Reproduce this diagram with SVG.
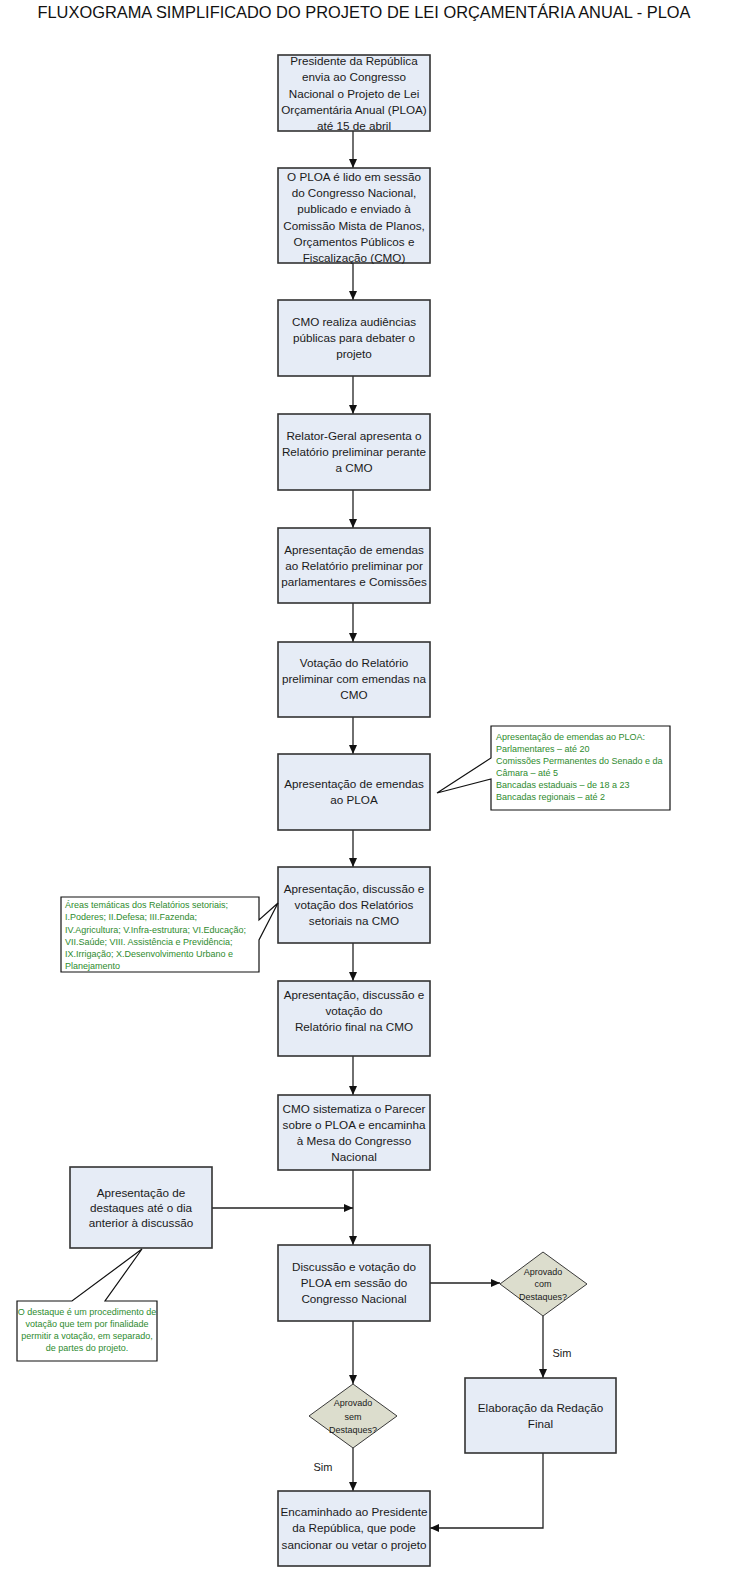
<svg xmlns="http://www.w3.org/2000/svg" width="729" height="1569" viewBox="0 0 729 1569">
<defs>
<marker id="ah" markerWidth="10" markerHeight="10" refX="9" refY="5" orient="auto" markerUnits="userSpaceOnUse">
<path d="M0,1 L9,5 L0,9 Z" fill="#111"/>
</marker>
<style>
.box{fill:#E6ECF6;stroke:#333;stroke-width:1.6}
.dia{fill:#DCDDCD;stroke:#3a3a3a;stroke-width:1}
.t{font-family:"Liberation Sans",Arial,sans-serif;font-size:11.7px;fill:#1a1a1a;text-anchor:middle}
.dt{font-family:"Liberation Sans",Arial,sans-serif;font-size:9px;fill:#1a1a1a;text-anchor:middle}
.g{font-family:"Liberation Sans",Arial,sans-serif;font-size:9px;fill:#2E8B2E}
.call{fill:#fff;stroke:#111;stroke-width:1.2}
.c{fill:none;stroke:#222;stroke-width:1.3}
.title{font-family:"Liberation Sans",Arial,sans-serif;font-size:16.4px;fill:#111;text-anchor:middle}
</style>
</defs>
<rect width="729" height="1569" fill="#fff"/>
<text class="title" x="364" y="18">FLUXOGRAMA SIMPLIFICADO DO PROJETO DE LEI ORÇAMENTÁRIA ANUAL - PLOA</text>

<g id="connectors">
<line class="c" x1="353" y1="131" x2="353" y2="168" marker-end="url(#ah)"/>
<line class="c" x1="353" y1="263" x2="353" y2="300" marker-end="url(#ah)"/>
<line class="c" x1="353" y1="376" x2="353" y2="414" marker-end="url(#ah)"/>
<line class="c" x1="353" y1="490" x2="353" y2="528" marker-end="url(#ah)"/>
<line class="c" x1="353" y1="603" x2="353" y2="642" marker-end="url(#ah)"/>
<line class="c" x1="353" y1="717" x2="353" y2="754" marker-end="url(#ah)"/>
<line class="c" x1="353" y1="830" x2="353" y2="867" marker-end="url(#ah)"/>
<line class="c" x1="353" y1="943" x2="353" y2="981" marker-end="url(#ah)"/>
<line class="c" x1="353" y1="1056" x2="353" y2="1095" marker-end="url(#ah)"/>
<line class="c" x1="353" y1="1170" x2="353" y2="1245" marker-end="url(#ah)"/>
<line class="c" x1="212" y1="1208" x2="353" y2="1208" marker-end="url(#ah)"/>
<line class="c" x1="430" y1="1283" x2="500" y2="1283" marker-end="url(#ah)"/>
<line class="c" x1="543" y1="1316" x2="543" y2="1378" marker-end="url(#ah)"/>
<line class="c" x1="353" y1="1321" x2="353" y2="1384" marker-end="url(#ah)"/>
<line class="c" x1="353" y1="1448" x2="353" y2="1491" marker-end="url(#ah)"/>
<polyline class="c" points="543,1453 543,1528 430,1528" marker-end="url(#ah)"/>
<text x="562" y="1357" font-family="Liberation Sans, Arial, sans-serif" font-size="11" fill="#1a1a1a" text-anchor="middle">Sim</text>
<text x="323" y="1471" font-family="Liberation Sans, Arial, sans-serif" font-size="11" fill="#1a1a1a" text-anchor="middle">Sim</text>
</g>

<g id="n1">
<rect class="box" x="278" y="55" width="152" height="76"/>
<text class="t" x="354" y="65">Presidente da República</text>
<text class="t" x="354" y="81">envia ao Congresso</text>
<text class="t" x="354" y="97.5">Nacional o Projeto de Lei</text>
<text class="t" x="354" y="114">Orçamentária Anual (PLOA)</text>
<text class="t" x="354" y="130">até 15 de abril</text>
</g>
<g id="n2">
<rect class="box" x="278" y="168" width="152" height="95"/>
<text class="t" x="354" y="181">O PLOA é lido em sessão</text>
<text class="t" x="354" y="197">do Congresso Nacional,</text>
<text class="t" x="354" y="213">publicado e enviado à</text>
<text class="t" x="354" y="230">Comissão Mista de Planos,</text>
<text class="t" x="354" y="246">Orçamentos Públicos e</text>
<text class="t" x="354" y="261.5">Fiscalização (CMO)</text>
</g>
<g id="n3">
<rect class="box" x="278" y="300" width="152" height="76"/>
<text class="t" x="354" y="326">CMO realiza audiências</text>
<text class="t" x="354" y="342">públicas para debater o</text>
<text class="t" x="354" y="358">projeto</text>
</g>
<g id="n4">
<rect class="box" x="278" y="414" width="152" height="76"/>
<text class="t" x="354" y="440">Relator-Geral apresenta o</text>
<text class="t" x="354" y="456">Relatório preliminar perante</text>
<text class="t" x="354" y="472">a CMO</text>
</g>
<g id="n5">
<rect class="box" x="278" y="528" width="152" height="75"/>
<text class="t" x="354" y="553.5">Apresentação de emendas</text>
<text class="t" x="354" y="569.5">ao Relatório preliminar por</text>
<text class="t" x="354" y="585.5">parlamentares e Comissões</text>
</g>
<g id="n6">
<rect class="box" x="278" y="642" width="152" height="75"/>
<text class="t" x="354" y="666.5">Votação do Relatório</text>
<text class="t" x="354" y="683">preliminar com emendas na</text>
<text class="t" x="354" y="699">CMO</text>
</g>
<g id="n7">
<rect class="box" x="278" y="754" width="152" height="76"/>
<text class="t" x="354" y="788">Apresentação de emendas</text>
<text class="t" x="354" y="804">ao PLOA</text>
</g>
<g id="n8">
<rect class="box" x="278" y="867" width="152" height="76"/>
<text class="t" x="354" y="893">Apresentação, discussão e</text>
<text class="t" x="354" y="909">votação dos Relatórios</text>
<text class="t" x="354" y="925">setoriais na CMO</text>
</g>
<g id="n9">
<rect class="box" x="278" y="981" width="152" height="75"/>
<text class="t" x="354" y="998.5">Apresentação, discussão e</text>
<text class="t" x="354" y="1014.5">votação do</text>
<text class="t" x="354" y="1030.5">Relatório final na CMO</text>
</g>
<g id="n10">
<rect class="box" x="278" y="1095" width="152" height="75"/>
<text class="t" x="354" y="1113">CMO sistematiza o Parecer</text>
<text class="t" x="354" y="1129">sobre o PLOA e encaminha</text>
<text class="t" x="354" y="1145">à Mesa do Congresso</text>
<text class="t" x="354" y="1161">Nacional</text>
</g>
<g id="n11">
<rect class="box" x="70" y="1167" width="142" height="81"/>
<text class="t" x="141" y="1197">Apresentação de</text>
<text class="t" x="141" y="1212">destaques até o dia</text>
<text class="t" x="141" y="1227">anterior à discussão</text>
</g>
<g id="n12">
<rect class="box" x="278" y="1245" width="152" height="76"/>
<text class="t" x="354" y="1271">Discussão e votação do</text>
<text class="t" x="354" y="1287">PLOA em sessão do</text>
<text class="t" x="354" y="1303">Congresso Nacional</text>
</g>
<g id="d1">
<polygon class="dia" points="543,1252 587,1284 543,1316 500,1284"/>
<text class="dt" x="543" y="1275">Aprovado</text>
<text class="dt" x="543" y="1287">com</text>
<text class="dt" x="543" y="1300">Destaques?</text>
</g>
<g id="n13">
<rect class="box" x="465" y="1378" width="151" height="75"/>
<text class="t" x="540.5" y="1412">Elaboração da Redação</text>
<text class="t" x="540.5" y="1428">Final</text>
</g>
<g id="d2">
<polygon class="dia" points="353,1384 397,1416 353,1448 309,1416"/>
<text class="dt" x="353" y="1406">Aprovado</text>
<text class="dt" x="353" y="1420">sem</text>
<text class="dt" x="353" y="1433">Destaques?</text>
</g>
<g id="n14">
<rect class="box" x="278" y="1491" width="152" height="75"/>
<text class="t" x="354" y="1516">Encaminhado ao Presidente</text>
<text class="t" x="354" y="1532">da República, que pode</text>
<text class="t" x="354" y="1549">sancionar ou vetar o projeto</text>
</g>

<g id="callout1">
<path class="call" d="M491,726 H670 V810 H491 V779 L437,793 L491,758 Z"/>
<text class="g" x="496" y="739.5">Apresentação de emendas ao PLOA:</text>
<text class="g" x="496" y="751.5">Parlamentares – até 20</text>
<text class="g" x="496" y="763.5">Comissões Permanentes do Senado e da</text>
<text class="g" x="496" y="775.5">Câmara – até 5</text>
<text class="g" x="496" y="788">Bancadas estaduais – de 18 a 23</text>
<text class="g" x="496" y="800">Bancadas regionais – até 2</text>
</g>
<g id="callout2">
<path class="call" d="M61,897 H259 V920 L278,903 L259,940 V972 H61 Z"/>
<text class="g" x="65" y="908">Áreas temáticas dos Relatórios setoriais;</text>
<text class="g" x="65" y="920">I.Poderes; II.Defesa; III.Fazenda;</text>
<text class="g" x="65" y="933">IV.Agricultura; V.Infra-estrutura; VI.Educação;</text>
<text class="g" x="65" y="945">VII.Saúde; VIII. Assistência e Previdência;</text>
<text class="g" x="65" y="957">IX.Irrigação; X.Desenvolvimento Urbano e</text>
<text class="g" x="65" y="969">Planejamento</text>
</g>
<g id="callout3">
<path class="call" d="M17,1301 H72 L142,1249 L105,1301 H157 V1361 H17 Z"/>
<text class="g" x="87" y="1315" text-anchor="middle" font-size="8.5">O destaque é um procedimento de</text>
<text class="g" x="87" y="1327" text-anchor="middle" font-size="8.5">votação que tem por finalidade</text>
<text class="g" x="87" y="1339" text-anchor="middle" font-size="8.5">permitir a votação, em separado,</text>
<text class="g" x="87" y="1351" text-anchor="middle" font-size="8.5">de partes do projeto.</text>
</g>
</svg>
